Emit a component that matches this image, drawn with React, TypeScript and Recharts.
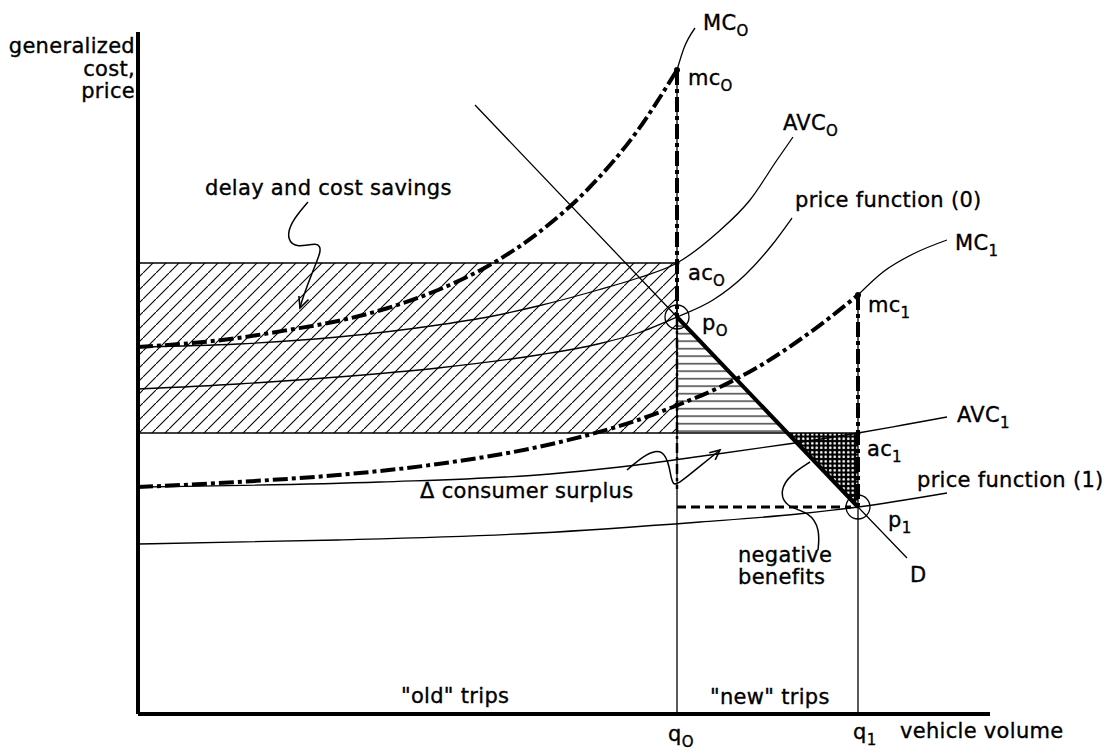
import React from "react";
import {
  ComposedChart,
  Line,
  Area,
  XAxis,
  YAxis,
  ReferenceArea,
  ReferenceLine,
  ReferenceDot,
} from "recharts";

type Pt = { x: number; y: number };

const FONT = "'DejaVu Sans', 'Liberation Sans', Arial, sans-serif";

// quantities and cost levels
const Q0 = 53.9;
const Q1 = 72.0;
const AC0 = 45.1;
const AC1 = 28.1;
const MC0 = 64.4;
const MC1 = 41.9;
const P0 = 39.7;
const P1 = 20.7;
const X_END = 85.2;
const Y_TOP = 68.2;
const D_AT_AC1 = 65.0; // demand meets the ac1 level here
const DOTTED_END = 22.5; // q0 vertical stays dotted down to here

// cost curves
const mc0Curve: Pt[] = [
  { x: 0, y: 36.7 }, { x: 10, y: 37.6 }, { x: 15, y: 38.4 }, { x: 20, y: 39.3 },
  { x: 25, y: 40.6 }, { x: 30, y: 42.4 }, { x: 35, y: 44.8 }, { x: 40, y: 48.1 },
  { x: 45, y: 52.5 }, { x: 50, y: 58.4 }, { x: Q0, y: MC0 },
];
const mc0Leader: Pt[] = [{ x: Q0, y: MC0 }, { x: 54.6, y: 66.6 }, { x: 55.7, y: 68.6 }];

const avc0Curve: Pt[] = [
  { x: 0, y: 36.7 }, { x: 10, y: 37.0 }, { x: 20, y: 37.7 }, { x: 30, y: 38.9 },
  { x: 35, y: 39.7 }, { x: 40, y: 40.8 }, { x: 46, y: 42.4 }, { x: 50, y: 43.6 },
  { x: Q0, y: AC0 }, { x: 57.9, y: 48.1 }, { x: 61.2, y: 51.4 }, { x: 63.9, y: 55.4 },
  { x: 65.5, y: 57.7 },
];

const price0Curve: Pt[] = [
  { x: 0, y: 32.5 }, { x: 10, y: 33.0 }, { x: 20, y: 33.7 }, { x: 30, y: 34.6 },
  { x: 40, y: 35.9 }, { x: 46, y: 37.0 }, { x: 50, y: 38.1 }, { x: Q0, y: P0 },
  { x: 57.5, y: 41.4 }, { x: 60.7, y: 43.9 }, { x: 63.4, y: 46.9 }, { x: 65.4, y: 49.6 },
];

const mc1Curve: Pt[] = [
  { x: 0, y: 22.7 }, { x: 10, y: 23.2 }, { x: 20, y: 23.9 }, { x: 30, y: 25.0 },
  { x: 40, y: 26.7 }, { x: 45, y: 27.9 }, { x: 50, y: 29.4 }, { x: 54, y: 30.9 },
  { x: 58, y: 32.6 }, { x: 62, y: 34.7 }, { x: 66, y: 37.3 }, { x: 69, y: 39.5 },
  { x: Q1, y: MC1 },
];
const mc1Leader: Pt[] = [
  { x: Q1, y: MC1 }, { x: 74.5, y: 44.2 }, { x: 77.5, y: 46.0 }, { x: 80.9, y: 47.4 },
];

const avc1Curve: Pt[] = [
  { x: 0, y: 22.7 }, { x: 24.2, y: 23.2 }, { x: 41.2, y: 24.0 }, { x: 48.2, y: 24.7 },
  { x: 57.2, y: 25.9 }, { x: 65, y: 27.0 }, { x: Q1, y: AC1 }, { x: 76.5, y: 28.9 },
  { x: 80.9, y: 29.7 },
];

const price1Curve: Pt[] = [
  { x: 0, y: 17.0 }, { x: 20, y: 17.4 }, { x: 40, y: 18.1 }, { x: 56.2, y: 19.2 },
  { x: 66, y: 20.0 }, { x: Q1, y: P1 }, { x: 80.9, y: 22.1 },
];

// demand
const demandLine: Pt[] = [
  { x: 33.7, y: 60.9 }, { x: Q0, y: P0 }, { x: Q1, y: P1 }, { x: 76.9, y: 15.6 },
];
const demandThick: Pt[] = [{ x: Q0, y: P0 }, { x: Q1, y: P1 }];

// shaded regions
const surplusBand = [
  { x: Q0, band: [AC1, P0] },
  { x: D_AT_AC1, band: [AC1, AC1] },
];
const negativeBand = [
  { x: D_AT_AC1, band: [AC1, AC1] },
  { x: Q1, band: [P1, AC1] },
];

// pointer squiggles and arrow heads
const delaySquiggle: Pt[] = [
  { x: 17.0, y: 51.2 }, { x: 15.2, y: 49.1 }, { x: 14.9, y: 47.4 }, { x: 15.9, y: 46.6 },
  { x: 18.0, y: 47.2 }, { x: 18.4, y: 46.4 }, { x: 17.5, y: 44.4 }, { x: 16.4, y: 41.4 },
  { x: 16.2, y: 40.6 },
];
const delayHead: Pt[] = [{ x: 17.05, y: 41.45 }, { x: 16.2, y: 40.6 }, { x: 16.09, y: 41.8 }];

const surplusSquiggle: Pt[] = [
  { x: 48.9, y: 24.4 }, { x: 50.9, y: 26.1 }, { x: 52.5, y: 26.5 }, { x: 53.2, y: 24.7 },
  { x: 53.4, y: 22.6 }, { x: 54.5, y: 23.4 }, { x: 58.2, y: 26.4 },
];
const surplusHead: Pt[] = [{ x: 57.13, y: 26.13 }, { x: 58.2, y: 26.4 }, { x: 57.72, y: 25.41 }];

const negativeSquiggle: Pt[] = [
  { x: 67.2, y: 25.2 }, { x: 65.2, y: 23.9 }, { x: 64.2, y: 22.4 }, { x: 64.7, y: 20.7 },
  { x: 67.2, y: 20.2 }, { x: 68.2, y: 18.4 }, { x: 68.0, y: 16.4 },
];

type Ann = { x: number; y: number; text: string; sub?: string; anchor?: "start" | "end" | "middle" };

const labels: Ann[] = [
  { x: -0.3, y: 66.1, text: "generalized", anchor: "end" },
  { x: -0.3, y: 63.8, text: "cost,", anchor: "end" },
  { x: -0.3, y: 61.6, text: "price", anchor: "end" },
  { x: 56.5, y: 68.4, text: "MC", sub: "O" },
  { x: 55.0, y: 62.9, text: "mc", sub: "O" },
  { x: 64.5, y: 58.4, text: "AVC", sub: "O" },
  { x: 65.7, y: 50.7, text: "price function (0)" },
  { x: 55.0, y: 43.4, text: "ac", sub: "O" },
  { x: 56.4, y: 38.4, text: "p", sub: "O" },
  { x: 81.7, y: 46.4, text: "MC", sub: "1" },
  { x: 73.0, y: 40.2, text: "mc", sub: "1" },
  { x: 81.9, y: 29.2, text: "AVC", sub: "1" },
  { x: 72.9, y: 25.8, text: "ac", sub: "1" },
  { x: 77.9, y: 22.7, text: "price function (1)" },
  { x: 75.0, y: 18.7, text: "p", sub: "1" },
  { x: 77.2, y: 13.2, text: "D" },
  { x: 6.7, y: 51.9, text: "delay and cost savings" },
  { x: 28.2, y: 21.6, text: "\u0394 consumer surplus" },
  { x: 60.0, y: 15.2, text: "negative" },
  { x: 60.0, y: 13.0, text: "benefits" },
  { x: 26.3, y: 1.1, text: "\"old\" trips" },
  { x: 57.2, y: 1.0, text: "\"new\" trips" },
  { x: 53.0, y: -2.7, text: "q", sub: "O" },
  { x: 71.5, y: -2.5, text: "q", sub: "1" },
  { x: 76.2, y: -2.4, text: "vehicle volume" },
];

const renderLabel = (a: Ann) => (props: any) => {
  const vb = props.viewBox || {};
  const x = vb.x ?? props.x ?? 0;
  const y = vb.y ?? props.y ?? 0;
  return (
    <text
      x={x}
      y={y}
      textAnchor={a.anchor ?? "start"}
      fontFamily={FONT}
      fontSize={21}
      letterSpacing={0.3}
      fill="#000"
      stroke="#000"
      strokeWidth={0.35}
    >
      {a.text}
      {a.sub && (
        <tspan fontSize={15} dy={6}>
          {a.sub}
        </tspan>
      )}
    </text>
  );
};

const thin = { stroke: "#000", strokeWidth: 1.3, dot: false, isAnimationActive: false };
const thick = {
  stroke: "#000",
  strokeWidth: 4,
  strokeDasharray: "15 4 4 4",
  dot: false,
  isAnimationActive: false,
};

export default function App() {
  return (
    <div style={{ position: "absolute", left: 0, top: 0, background: "#fff" }}>
      <ComposedChart
        width={1105}
        height={753}
        margin={{ top: 14, right: 107, bottom: 39, left: 138 }}
      >
        <defs>
          <pattern id="diag" width="13" height="13" patternUnits="userSpaceOnUse">
            <line x1="-1" y1="14" x2="14" y2="-1" stroke="#000" strokeWidth="1.1" />
          </pattern>
          <pattern id="horiz" width="10" height="7.5" patternUnits="userSpaceOnUse">
            <line x1="0" y1="3.7" x2="10" y2="3.7" stroke="#000" strokeWidth="1.1" />
          </pattern>
          <pattern id="dots" width="4.5" height="4.5" patternUnits="userSpaceOnUse">
            <rect width="4.5" height="4.5" fill="#000" />
            <circle cx="2.25" cy="2.25" r="1.35" fill="#fff" />
          </pattern>
        </defs>
        <XAxis type="number" dataKey="x" domain={[0, 86]} allowDataOverflow hide />
        <YAxis type="number" dataKey="y" domain={[0, 70]} allowDataOverflow hide />

        <ReferenceArea
          x1={0}
          x2={Q0}
          y1={AC1}
          y2={AC0}
          fill="url(#diag)"
          fillOpacity={1}
          stroke="#000"
          strokeWidth={1.3}
        />
        <Area
          data={surplusBand}
          dataKey="band"
          type="linear"
          fill="url(#horiz)"
          fillOpacity={1}
          stroke="none"
          isAnimationActive={false}
        />
        <Area
          data={negativeBand}
          dataKey="band"
          type="linear"
          fill="url(#dots)"
          fillOpacity={1}
          stroke="none"
          isAnimationActive={false}
        />

        <ReferenceLine segment={[{ x: Q0, y: AC1 }, { x: Q1, y: AC1 }]} stroke="#000" strokeWidth={1.3} />
        <ReferenceLine segment={[{ x: Q0, y: 0 }, { x: Q0, y: MC0 }]} stroke="#000" strokeWidth={1.3} />
        <ReferenceLine segment={[{ x: Q1, y: 0 }, { x: Q1, y: MC1 }]} stroke="#000" strokeWidth={1.3} />

        <Line data={avc0Curve} dataKey="y" type="monotone" {...thin} />
        <Line data={price0Curve} dataKey="y" type="monotone" {...thin} />
        <Line data={avc1Curve} dataKey="y" type="monotone" {...thin} />
        <Line data={price1Curve} dataKey="y" type="monotone" {...thin} />
        <Line data={mc0Leader} dataKey="y" type="monotone" {...thin} />
        <Line data={mc1Leader} dataKey="y" type="monotone" {...thin} />
        <Line data={demandLine} dataKey="y" type="linear" {...thin} />

        <Line data={delaySquiggle} dataKey="y" type="basis" {...thin} strokeWidth={1.5} />
        <Line data={delayHead} dataKey="y" type="linear" {...thin} strokeWidth={1.6} />
        <Line data={surplusSquiggle} dataKey="y" type="basis" {...thin} strokeWidth={1.5} />
        <Line data={surplusHead} dataKey="y" type="linear" {...thin} strokeWidth={1.6} />
        <Line data={negativeSquiggle} dataKey="y" type="basis" {...thin} strokeWidth={1.5} />

        <Line data={mc0Curve} dataKey="y" type="monotone" {...thick} />
        <Line data={mc1Curve} dataKey="y" type="monotone" {...thick} />
        <ReferenceLine
          segment={[{ x: Q0, y: MC0 }, { x: Q0, y: P0 }]}
          stroke="#000"
          strokeWidth={4}
          strokeDasharray="15 4 4 4"
        />
        <ReferenceLine
          segment={[{ x: Q0, y: P0 }, { x: Q0, y: DOTTED_END }]}
          stroke="#000"
          strokeWidth={2.5}
          strokeDasharray="10 4 3 4"
        />
        <ReferenceLine
          segment={[{ x: Q1, y: MC1 }, { x: Q1, y: P1 }]}
          stroke="#000"
          strokeWidth={4}
          strokeDasharray="15 4 4 4"
        />
        <ReferenceLine
          segment={[{ x: Q0, y: P1 }, { x: 71.3, y: P1 }]}
          stroke="#000"
          strokeWidth={3}
          strokeDasharray="9 5"
        />
        <Line data={demandThick} dataKey="y" type="linear" stroke="#000" strokeWidth={4} dot={false} isAnimationActive={false} />

        <ReferenceDot x={Q0} y={MC0} r={3} fill="#000" stroke="none" />
        <ReferenceDot x={Q0} y={AC0} r={2.5} fill="#000" stroke="none" />
        <ReferenceDot x={Q1} y={MC1} r={3} fill="#000" stroke="none" />
        <ReferenceDot x={Q1} y={AC1} r={2.5} fill="#000" stroke="none" />
        <ReferenceDot x={Q0} y={P0} r={12} fill="none" stroke="#000" strokeWidth={1.3} />
        <ReferenceDot x={Q1} y={P1} r={12} fill="none" stroke="#000" strokeWidth={1.3} />

        {/* axes */}
        <ReferenceLine segment={[{ x: 0, y: 0 }, { x: 0, y: Y_TOP }]} stroke="#000" strokeWidth={4} />
        <ReferenceLine segment={[{ x: 0, y: 0 }, { x: X_END, y: 0 }]} stroke="#000" strokeWidth={4} />

        {labels.map((a, i) => (
          <ReferenceDot
            key={i}
            x={a.x}
            y={a.y}
            r={0}
            fill="none"
            stroke="none"
            ifOverflow="visible"
            label={{ content: renderLabel(a) }}
          />
        ))}
      </ComposedChart>
    </div>
  );
}
